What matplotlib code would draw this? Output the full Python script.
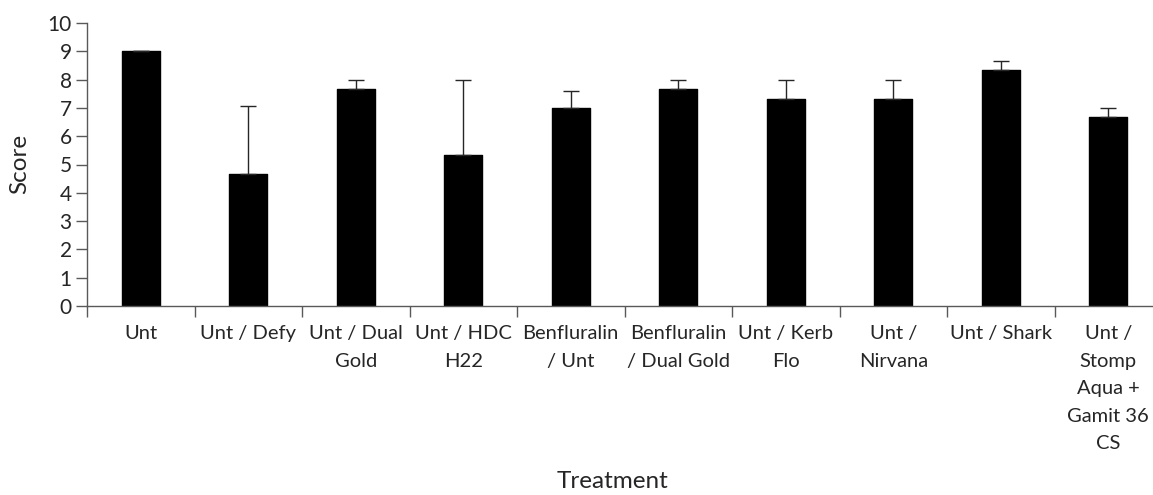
import matplotlib
matplotlib.use("Agg")
import matplotlib.pyplot as plt
import numpy as np

plt.rcParams['font.family'] = ['Lato', 'DejaVu Sans']

# treatment labels, wrapped as in the source chart
treatments = [
    "Unt",
    "Unt / Defy",
    "Unt / Dual\nGold",
    "Unt / HDC\nH22",
    "Benfluralin\n/ Unt",
    "Benfluralin\n/ Dual Gold",
    "Unt / Kerb\nFlo",
    "Unt /\nNirvana",
    "Unt / Shark",
    "Unt /\nStomp\nAqua +\nGamit 36\nCS",
]
scores = [9.0, 4.67, 7.67, 5.33, 7.0, 7.67, 7.33, 7.33, 8.33, 6.67]
errors = [0.0, 2.4, 0.33, 2.67, 0.58, 0.33, 0.67, 0.67, 0.33, 0.33]

W, H = 1153, 495
fig = plt.figure(figsize=(W / 100, H / 100), dpi=100)
# axes reach a little past the right edge, as in the original
ax = fig.add_axes([87 / W, 1 - 306 / H, 1075 / W, 283 / H])

x = np.arange(len(treatments))
ax.bar(x, scores, width=0.35, color="black", edgecolor="black", linewidth=1,
       joinstyle="round", zorder=2)
ax.errorbar(x, scores, yerr=[np.zeros(len(errors)), errors], fmt="none",
            ecolor="#262626", elinewidth=1, capsize=6, capthick=1, zorder=3)

ax.set_xlim(-0.5, len(treatments) - 0.5)
ax.set_ylim(0, 10)
ax.set_yticks(range(0, 11))
ax.tick_params(axis="y", direction="out", length=8, width=1, color="#595959",
               labelsize=15, pad=3, labelcolor="#262626")

ax.set_xticks(x)
ax.set_xticklabels(treatments, fontsize=14.5, color="#262626", linespacing=1.74,
                   va="top")
ax.set_xticks(np.arange(-0.5, len(treatments), 1.0), minor=True)
ax.tick_params(axis="x", which="major", length=0, pad=14)
ax.tick_params(axis="x", which="minor", direction="out", length=8, width=1,
               color="#595959")

for side in ("top", "right"):
    ax.spines[side].set_visible(False)
for side in ("left", "bottom"):
    ax.spines[side].set_color("#595959")
    ax.spines[side].set_linewidth(1)

fig.text(20 / W, 1 - 164 / H, "Score", rotation=90, ha="center", va="center",
         fontsize=17.5, color="#262626")
fig.text(613 / W, 1 - 482 / H, "Treatment", ha="center", va="center",
         fontsize=17.5, color="#262626")

fig.savefig("out.png", dpi=100)
